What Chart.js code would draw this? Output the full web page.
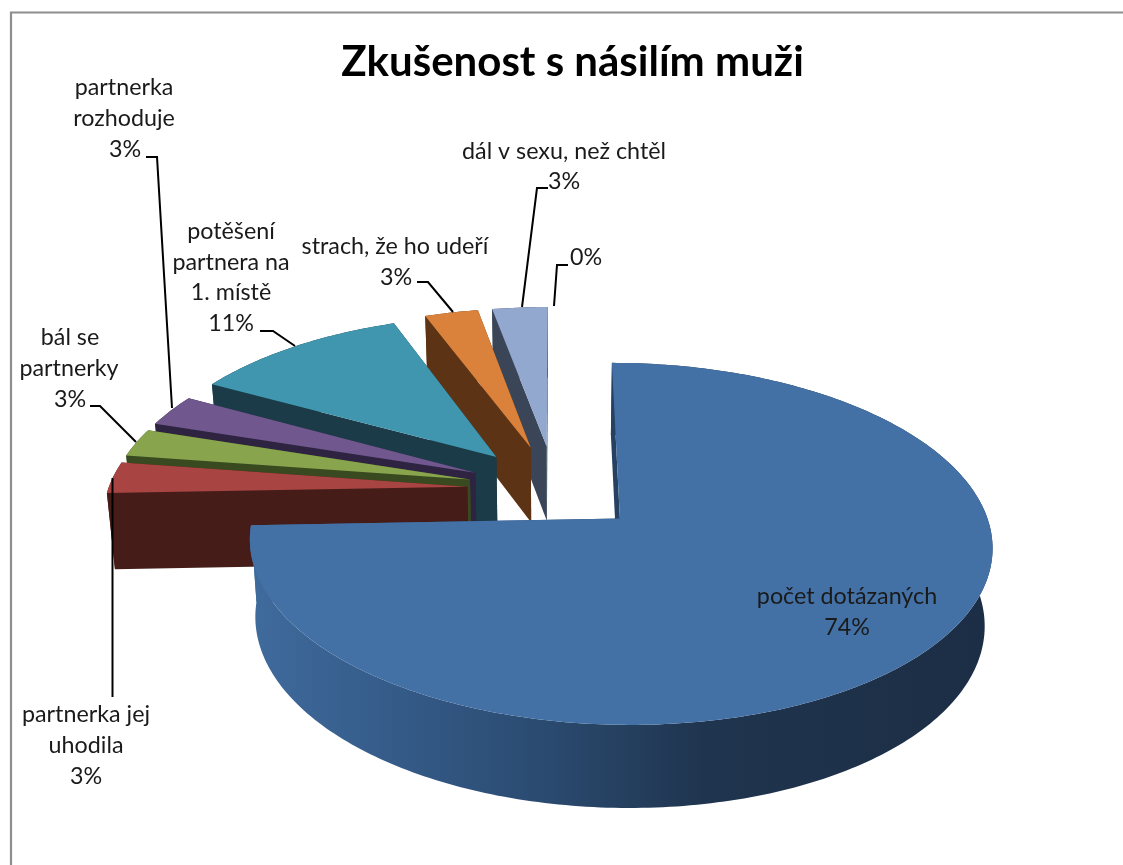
<!DOCTYPE html>
<html lang="cs"><head><meta charset="utf-8">
<style>html,body{margin:0;padding:0;background:#fff}#w{width:1123px;height:865px;position:relative}</style>
<script src="https://cdn.jsdelivr.net/npm/chart.js@4"></script></head>
<body><div id="w"><canvas id="c" width="1123" height="865"></canvas></div>
<script>
const chartTitle = 'Zkušenost s násilím muži';
const categories = ['počet dotázaných','partnerka jej uhodila','bál se partnerky','partnerka rozhoduje','potěšení partnera na 1. místě','strach, že ho udeří','dál v sexu, než chtěl',''];
const values = [74.4,2.95,2.65,3,11.3,2.8,2.9,0];
const topColors  = ['#4371a6','#a84543','#88a54d','#70578e','#4096ae','#da823c','#92a8ce','#bbbbbb'];
const wallColors = ['#1d3048','#451c18','#394a20','#2e2340','#1a3b47','#5c3315','#3a4558','#777777'];
const explode = [88,88,88,88,92,94,94,94];

// projection of the flat pie onto the tilted plane
const P = {X0:555, Y0:489, k:0.000382, s:0.4715, zx:0.982, zy:1.03, D:76};
function proj(u,v,low){
  const w = 1 - P.k*v;
  let x = P.X0 + u/w, y = P.Y0 + P.s*v/w;
  if(low){ x = P.X0 + (x-P.X0)*P.zx; y = P.Y0 + (y-P.Y0)*P.zy + P.D; }
  return [x,y];
}
function poly(ctx,pts){ ctx.beginPath(); pts.forEach((p,i)=> i?ctx.lineTo(p[0],p[1]):ctx.moveTo(p[0],p[1])); ctx.closePath(); }

const pie3d = {
  id:'pie3d',
  beforeDatasetDraw(chart,args){
    const ctx = chart.ctx, arcs = chart.getDatasetMeta(args.index).data;
    for(let i=arcs.length-1;i>=0;i--){
      const a = arcs[i], p = a.getProps(['startAngle','endAngle','outerRadius']);
      if(p.endAngle-p.startAngle<=0) continue;
      const off = a.options.offset, m = (p.startAngle+p.endAngle)/2;
      const tu = off*Math.cos(m), tv = off*Math.sin(m);
      const n = Math.max(6,Math.ceil((p.endAngle-p.startAngle)*60));
      const rim = [];
      for(let j=0;j<=n;j++){
        const t = p.startAngle+(p.endAngle-p.startAngle)*j/n;
        rim.push([tu+p.outerRadius*Math.cos(t), tv+p.outerRadius*Math.sin(t)]);
      }
      const top = rim.map(q=>proj(q[0],q[1],false)), low = rim.map(q=>proj(q[0],q[1],true));
      const tipT = proj(tu,tv,false), tipL = proj(tu,tv,true);
      let fill = wallColors[i];
      if(i===0){
        fill = ctx.createLinearGradient(258,0,985,0);
        fill.addColorStop(0,'#3f6a9c');
        fill.addColorStop(0.2,'#345a87');
        fill.addColorStop(0.4,'#2a4a6f');
        fill.addColorStop(0.62,'#1f344e');
        fill.addColorStop(1,'#1c2e45');
      }
      ctx.fillStyle = fill;
      // cut faces
      poly(ctx,[tipT,top[0],low[0],tipL]); ctx.fill();
      poly(ctx,[tipT,top[n],low[n],tipL]); ctx.fill();
      // outer wall
      poly(ctx,top.concat(low.slice().reverse())); ctx.fill();
      // top face
      ctx.fillStyle = a.options.backgroundColor;
      poly(ctx,[tipT].concat(top)); ctx.fill();
    }
    return false;
  },
  afterDraw(chart){
    const ctx = chart.ctx;
    ctx.save();
    // frame
    ctx.strokeStyle='#8e8e8e'; ctx.lineWidth=2.2;
    ctx.beginPath(); ctx.moveTo(11,865); ctx.lineTo(11,12.5); ctx.lineTo(1123,12.5); ctx.stroke();
    // leader lines
    ctx.strokeStyle='#000'; ctx.lineWidth=2;
    leaderPaths.forEach(l=>{ ctx.beginPath(); l.forEach((p,i)=> i?ctx.lineTo(p[0],p[1]):ctx.moveTo(p[0],p[1])); ctx.stroke(); });
    // data labels
    ctx.fillStyle='#1a1a1a'; ctx.font=labelFont; ctx.textAlign='center'; ctx.textBaseline='alphabetic';
    labelLayout.forEach(l=>{
      const lines = l.lines.concat(Math.round(values[l.i])+'%');
      lines.forEach((t,j)=>{ ctx.fillText(t, l.xs[j]??l.xs[0], l.y+j*l.dy); });
    });
    ctx.restore();
  }
};
const labelFont = '23.3px Lato';
const labelLayout = [
  {i:0,lines:['počet dotázaných'],xs:[847],y:604,dy:31},
  {i:1,lines:['partnerka jej','uhodila'],xs:[86],y:722,dy:31},
  {i:2,lines:['bál se','partnerky'],xs:[70,69,70],y:345,dy:31},
  {i:3,lines:['partnerka','rozhoduje'],xs:[124,124,125],y:95,dy:31},
  {i:4,lines:['potěšení','partnera na','1. místě'],xs:[231],y:239,dy:30.5},
  {i:5,lines:['strach, že ho udeří'],xs:[395,396],y:254,dy:31},
  {i:6,lines:['dál v sexu, než chtěl'],xs:[564],y:159,dy:30},
  {i:7,lines:[],xs:[586],y:265,dy:0}
];
const leaderPaths = [
  [[112.5,478],[112.5,697]],
  [[90,406],[100,406],[136,442]],
  [[146,157],[157,157],[172,408]],
  [[260,331],[273,331],[295,346]],
  [[417,282],[428,282],[453,312]],
  [[548,188],[537,188],[522,307]],
  [[568,265],[557,265],[554,306]]
];

new Chart(document.getElementById('c'),{
  type:'pie',
  data:{labels:categories,datasets:[{data:values,backgroundColor:topColors,borderWidth:0,offset:explode}]},
  options:{
    responsive:false,animation:false,radius:359,rotation:0,
    layout:{padding:{left:22,top:0}},
    events:[],
    plugins:{
      legend:{display:false},tooltip:{enabled:false},
      title:{display:true,text:chartTitle,color:'#000',font:{family:'Lato',size:42,weight:'bold'},padding:{top:37,bottom:10}}
    }
  },
  plugins:[pie3d]
});
</script></body></html>
